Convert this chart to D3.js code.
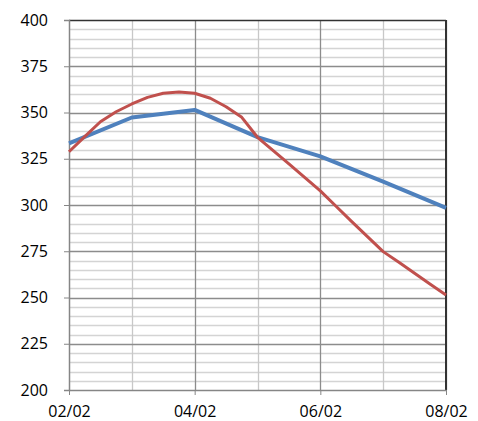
<!DOCTYPE html>
<html lang="en">
  <head>
    <meta charset="UTF-8" />
    <title>Line chart</title>
    <script src="https://d3js.org/d3.v7.min.js"></script>
    <style>
      body { margin: 0; background: #fff; }
      text { font-family: "Open Sans", sans-serif; font-size: 16px; fill: #000; }
    </style>
  </head>
  <body>
    <svg id="chart" width="478" height="421"></svg>
    <script>
      // x positions are steps between 02/02 and 08/02
      const xTickLabels = ["02/02", "03/02", "04/02", "05/02", "06/02", "07/02", "08/02"];
      const yTicks = [200, 225, 250, 275, 300, 325, 350, 375, 400];

      const blueX = [0, 1, 2, 3, 4, 5, 6];
      const blueValues = [333.3, 347.3, 351.4, 336.7, 326.3, 312.6, 298.4];

      const redX = [0, 0.25, 0.5, 0.75, 1, 1.25, 1.5, 1.75, 2, 2.25, 2.5, 2.75, 3,
        3.25, 3.5, 3.75, 4, 4.25, 4.5, 4.75, 5, 5.25, 5.5, 5.75, 6];
      const redValues = [328.8, 337, 345, 350.4, 354.6, 358.2, 360.4, 361.1, 360.4,
        357.7, 353.1, 347.4, 336.6, 329.4, 322.2, 314.9, 307.6, 299.3, 291,
        282.9, 274.8, 269, 263.1, 257.2, 251.4];

      const svg = d3.select("#chart"),
        margin = { top: 20, right: 32, bottom: 31, left: 69 },
        width = +svg.attr("width") - margin.left - margin.right,
        height = +svg.attr("height") - margin.top - margin.bottom,
        chart = svg.append("g").attr("transform", `translate(${margin.left},${margin.top})`);

      const x = d3.scaleLinear().domain([0, 6]).range([0, width]);
      const y = d3.scaleLinear().domain([200, 400]).range([height, 0]);

      // minor horizontal grid every 5
      chart.append("g")
        .selectAll("line")
        .data(d3.range(205, 400, 5).filter((v) => v % 25 !== 0))
        .enter()
        .append("line")
        .attr("x1", 0).attr("x2", width)
        .attr("y1", (d) => Math.round(y(d)) + 0.5)
        .attr("y2", (d) => Math.round(y(d)) + 0.5)
        .attr("stroke", "#d4d4d4")
        .attr("stroke-width", 1.3);

      // vertical grid
      chart.append("g")
        .selectAll("line")
        .data(d3.range(1, 7))
        .enter()
        .append("line")
        .attr("x1", (d) => Math.round(x(d)) + 0.5)
        .attr("x2", (d) => Math.round(x(d)) + 0.5)
        .attr("y1", 0).attr("y2", height)
        .attr("stroke", (d) => (d % 2 === 0 ? "#8c8c8c" : "#c8c8c8"))
        .attr("stroke-width", 1.3);

      // major horizontal grid every 25
      chart.append("g")
        .selectAll("line")
        .data(yTicks.filter((v) => v > 200 && v < 400))
        .enter()
        .append("line")
        .attr("x1", 0).attr("x2", width)
        .attr("y1", (d) => Math.round(y(d)) + 0.5)
        .attr("y2", (d) => Math.round(y(d)) + 0.5)
        .attr("stroke", "#8c8c8c")
        .attr("stroke-width", 1.3);

      // frame: top and right dark
      chart.append("line")
        .attr("x1", 0).attr("x2", width).attr("y1", 0.5).attr("y2", 0.5)
        .attr("stroke", "#333").attr("stroke-width", 1.5);
      chart.append("line")
        .attr("x1", width).attr("x2", width).attr("y1", 0).attr("y2", height)
        .attr("stroke", "#333").attr("stroke-width", 2);

      // axes
      const yAxis = chart.append("g")
        .call(d3.axisLeft(y).tickValues(yTicks).tickSize(5).tickPadding(16));
      yAxis.select(".domain").attr("stroke", "#868686").attr("stroke-width", 1.5);
      yAxis.selectAll(".tick line").attr("stroke", "#868686");
      yAxis.selectAll("text").style("font-size", "16px").attr("fill", "#000");

      const xAxis = chart.append("g")
        .attr("transform", `translate(0,${height})`)
        .call(
          d3.axisBottom(x)
            .tickValues([0, 2, 4, 6])
            .tickFormat((d) => xTickLabels[d])
            .tickSize(5)
            .tickSizeOuter(0)
            .tickPadding(11)
        );
      xAxis.select(".domain").attr("stroke", "#868686").attr("stroke-width", 1.5);
      xAxis.selectAll(".tick line").attr("stroke", "#868686");
      xAxis.selectAll("text").style("font-size", "16px").attr("fill", "#000");

      const line = d3.line()
        .x((d) => x(d[0]))
        .y((d) => y(d[1]));

      chart.append("path")
        .datum(blueX.map((d, i) => [d, blueValues[i]]))
        .attr("fill", "none")
        .attr("stroke", "#4F81BD")
        .attr("stroke-width", 4)
        .attr("stroke-linejoin", "round")
        .attr("d", line);

      chart.append("path")
        .datum(redX.map((d, i) => [d, redValues[i]]))
        .attr("fill", "none")
        .attr("stroke", "#C0504D")
        .attr("stroke-width", 3)
        .attr("stroke-linejoin", "round")
        .attr("d", line);
    </script>
  </body>
</html>
